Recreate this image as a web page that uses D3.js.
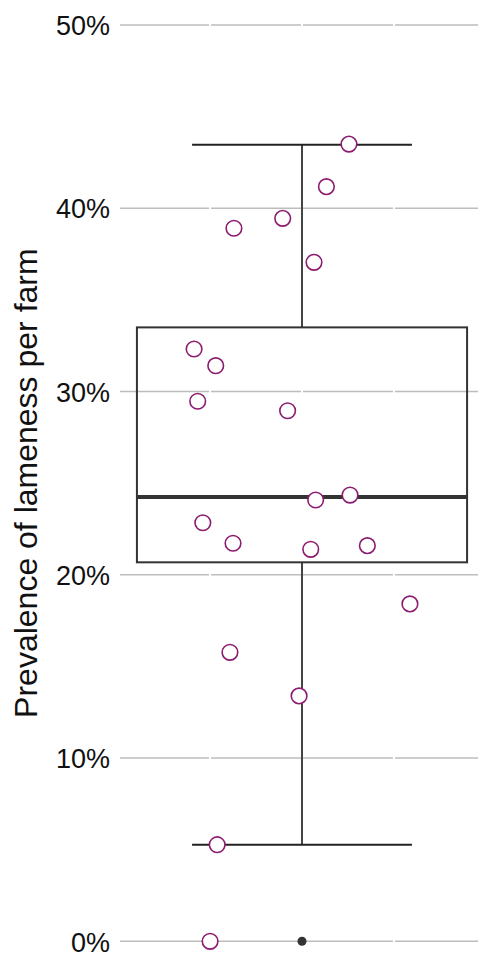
<!DOCTYPE html>
<html>
<head>
<meta charset="utf-8">
<script src="https://cdn.jsdelivr.net/npm/d3@7"></script>
<style>
  body { margin: 0; background: #fff; }
  text { font-family: "Liberation Sans", Arial, sans-serif; fill: #111; }
</style>
</head>
<body>
<div id="chart"></div>
<script>
// prevalence per farm (%) and horizontal jitter (-1..1 of panel half width)
var prevalence = [43.5, 41.18, 39.45, 38.91, 37.05, 32.32, 31.41, 29.47, 28.95, 24.35,
                  24.08, 22.84, 21.72, 21.59, 21.39, 18.41, 15.77, 13.39, 5.27, 0];
var jitter = [0.258, 0.134, -0.106, -0.374, 0.066, -0.593, -0.474, -0.573, -0.079, 0.264,
              0.075, -0.545, -0.379, 0.359, 0.048, 0.593, -0.396, -0.016, -0.466, -0.505];

// boxplot summary
var q1 = 20.68, median = 24.24, q3 = 33.5;
var whiskerLow = 5.27, whiskerHigh = 43.47;
var outliers = [0];

var yTicks = [0, 10, 20, 30, 40, 50];
var xBreaks = [-0.505, 0, 0.505];

var svgWidth = 478;
var svgHeight = 954;

var svg = d3.select("#chart")
    .append("svg")
    .attr("width", svgWidth)
    .attr("height", svgHeight);

var yScale = d3.scaleLinear()
    .domain([0, 50])
    .range([941.3, 25]);

var xScale = d3.scaleLinear()
    .domain([-1, 1])
    .range([120, 484]);

// gridlines
svg.append("g")
    .selectAll("line")
    .data(yTicks)
    .enter()
    .append("line")
    .attr("x1", 120)
    .attr("x2", svgWidth)
    .attr("y1", d => yScale(d))
    .attr("y2", d => yScale(d))
    .attr("stroke", "#bdbdbd")
    .attr("stroke-width", 1.4);

svg.append("g")
    .selectAll("line")
    .data(xBreaks)
    .enter()
    .append("line")
    .attr("x1", d => xScale(d))
    .attr("x2", d => xScale(d))
    .attr("y1", 0)
    .attr("y2", svgHeight)
    .attr("stroke", "#fff")
    .attr("stroke-width", 2);

// y axis labels
var leftAxis = d3.axisLeft(yScale)
    .tickValues(yTicks)
    .tickFormat(d => d + "%")
    .tickSize(0)
    .tickPadding(10);

var axisG = svg.append("g")
    .attr("transform", "translate(120,0)")
    .call(leftAxis)
    .attr("font-size", null)
    .attr("font-family", null);
axisG.select(".domain").remove();
axisG.selectAll("text")
    .style("font-size", "27px")
    .attr("fill", "#111")
    .attr("dy", "0.36em");

svg.append("text")
    .attr("transform", `translate(37, ${yScale(25)}) rotate(-90)`)
    .style("text-anchor", "middle")
    .style("font-size", "32px")
    .text("Prevalence of lameness per farm");

// whiskers
var cx = xScale(0);
svg.append("line")
    .attr("x1", cx).attr("x2", cx)
    .attr("y1", yScale(whiskerHigh)).attr("y2", yScale(q3))
    .attr("stroke", "#444").attr("stroke-width", 2);
svg.append("line")
    .attr("x1", cx).attr("x2", cx)
    .attr("y1", yScale(q1)).attr("y2", yScale(whiskerLow))
    .attr("stroke", "#444").attr("stroke-width", 2);

svg.append("g")
    .selectAll("line")
    .data([whiskerLow, whiskerHigh])
    .enter()
    .append("line")
    .attr("x1", xScale(-0.604))
    .attr("x2", xScale(0.604))
    .attr("y1", d => yScale(d))
    .attr("y2", d => yScale(d))
    .attr("stroke", "#222")
    .attr("stroke-width", 2);

// box
svg.append("rect")
    .attr("x", xScale(-0.907))
    .attr("width", xScale(0.907) - xScale(-0.907))
    .attr("y", yScale(q3))
    .attr("height", yScale(q1) - yScale(q3))
    .attr("fill", "none")
    .attr("stroke", "#333")
    .attr("stroke-width", 2);

svg.append("line")
    .attr("x1", xScale(-0.907)).attr("x2", xScale(0.907))
    .attr("y1", yScale(median)).attr("y2", yScale(median))
    .attr("stroke", "#333").attr("stroke-width", 4);

// outliers
svg.append("g")
    .selectAll("circle")
    .data(outliers)
    .enter()
    .append("circle")
    .attr("cx", cx)
    .attr("cy", d => yScale(d))
    .attr("r", 4.5)
    .attr("fill", "#333");

// farm points
svg.append("g")
    .selectAll("circle")
    .data(prevalence)
    .enter()
    .append("circle")
    .attr("cx", (d, i) => xScale(jitter[i]))
    .attr("cy", d => yScale(d))
    .attr("r", 7.8)
    .attr("fill", "#fff")
    .attr("stroke", "#8B1C6F")
    .attr("stroke-width", 1.6);
</script>
</body>
</html>
